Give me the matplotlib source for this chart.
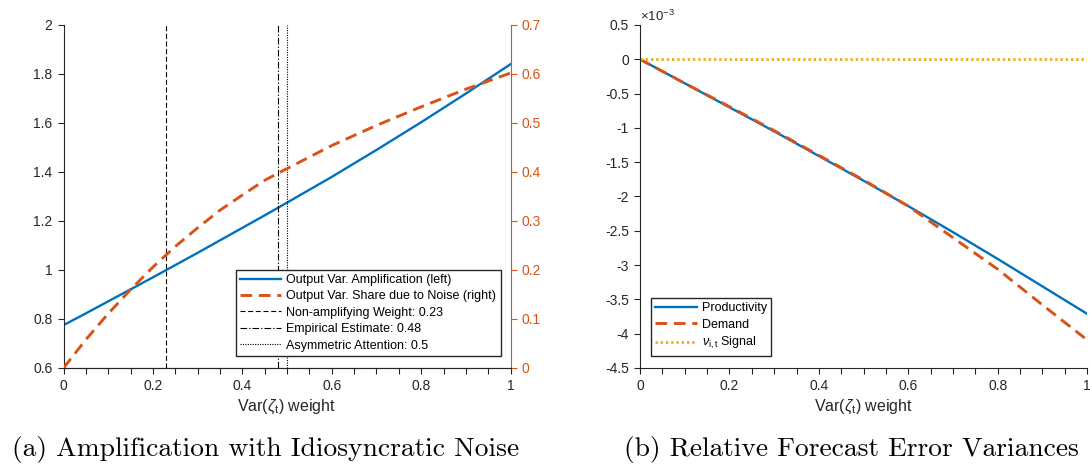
import matplotlib
matplotlib.use("Agg")
import matplotlib.pyplot as plt
from matplotlib.ticker import FuncFormatter, MultipleLocator

# weight on Var(zeta_t)
weight = [0.0, 0.05, 0.1, 0.15, 0.2, 0.25, 0.3, 0.35, 0.4, 0.45, 0.5, 0.6, 0.7, 0.8, 0.9, 1.0]

# panel (a): output variance amplification (left axis) and noise share (right axis)
amplification = [0.775, 0.823, 0.872, 0.921, 0.970, 1.020, 1.070, 1.121, 1.172,
                 1.223, 1.275, 1.380, 1.490, 1.603, 1.720, 1.840]
noise_share = [0.0, 0.058, 0.111, 0.160, 0.206, 0.248, 0.286, 0.322, 0.353,
               0.383, 0.407, 0.454, 0.495, 0.533, 0.569, 0.602]

# reference weights marked with vertical lines
ref_labels = ['Non-amplifying Weight: 0.23', 'Empirical Estimate: 0.48', 'Asymmetric Attention: 0.5']
ref_weights = [0.23, 0.48, 0.5]

# panel (b): relative forecast error variances, in units of 1e-3
weight_b = [0.0, 0.1, 0.2, 0.3, 0.4, 0.5, 0.6, 0.7, 0.8, 0.9, 1.0]
productivity = [0.0, -0.35, -0.70, -1.05, -1.41, -1.77, -2.14, -2.52, -2.91, -3.31, -3.71]
demand = [0.0, -0.35, -0.69, -1.04, -1.40, -1.76, -2.14, -2.60, -3.06, -3.58, -4.09]
signal = [0.0] * len(weight_b)

BLUE = '#0072BD'
ORANGE = '#D95319'
YELLOW = '#EDB120'
AXC = '#262626'

plt.rcParams['font.family'] = ['Liberation Sans', 'DejaVu Sans']
plt.rcParams['mathtext.fontset'] = 'custom'
plt.rcParams['mathtext.rm'] = 'Liberation Sans'
plt.rcParams['mathtext.it'] = 'Liberation Sans:italic'
plt.rcParams['axes.unicode_minus'] = False
plt.rcParams['xtick.direction'] = 'out'
plt.rcParams['ytick.direction'] = 'out'

fmt = FuncFormatter(lambda v, pos: ('%g' % round(v, 6)).replace('\u2212', '-'))
xlabel = r'Var($\zeta_\mathrm{t}$) weight'


def style_axis(ax, color=AXC):
    ax.tick_params(axis='both', which='both', length=4.5, width=0.8, pad=3.5,
                   labelsize=10, colors=color)
    ax.tick_params(axis='x', colors=AXC)
    ax.xaxis.set_minor_locator(MultipleLocator(0.05))
    ax.xaxis.set_major_locator(MultipleLocator(0.2))
    ax.xaxis.set_major_formatter(fmt)
    ax.yaxis.set_major_formatter(fmt)
    ax.tick_params(axis='y', which='minor', length=0)
    for s in ax.spines.values():
        s.set_linewidth(0.8)
        s.set_color(AXC)
    ax.spines['top'].set_visible(False)


def boxed_legend(ax, handles, loc, anchor):
    leg = ax.legend(handles=handles, loc=loc, bbox_to_anchor=anchor,
                    fontsize=9, frameon=True, fancybox=False, framealpha=1,
                    edgecolor=AXC, handlelength=3.3, handletextpad=0.4,
                    labelspacing=0.35, borderpad=0.35, borderaxespad=0)
    leg.get_frame().set_linewidth(1.0)
    return leg


fig = plt.figure(figsize=(10.9, 4.69), dpi=100)

# ---- (a) amplification with idiosyncratic noise
ax1 = fig.add_axes([0.0583, 0.2154, 0.4101, 0.7313])
ax1r = ax1.twinx()

l_amp, = ax1.plot(weight, amplification, color=BLUE, lw=1.7,
                  label='Output Var. Amplification (left)')
l_noise, = ax1r.plot(weight, noise_share, color=ORANGE, lw=2.1,
                     linestyle=(0, (4.0, 2.3)),
                     label='Output Var. Share due to Noise (right)')

ref_styles = [(0, (4.5, 2.4)), (0, (6, 1.8, 1.2, 1.8)), (0, (1, 1.2))]
ref_lines = []
for lab, w, ls in zip(ref_labels, ref_weights, ref_styles):
    ln = ax1.axvline(w, color='black', lw=0.8, linestyle=ls, label=lab)
    ref_lines.append(ln)

ax1.set_xlim(0, 1)
ax1.set_ylim(0.6, 2)
ax1r.set_ylim(0, 0.7)
ax1.yaxis.set_major_locator(MultipleLocator(0.2))
ax1r.yaxis.set_major_locator(MultipleLocator(0.1))
style_axis(ax1)
style_axis(ax1r, ORANGE)
ax1r.spines['right'].set_color(ORANGE)
ax1r.spines['left'].set_visible(False)
ax1.spines['right'].set_visible(False)
ax1.set_xlabel(xlabel, fontsize=11.5, color=AXC, labelpad=3)

boxed_legend(ax1r, [l_amp, l_noise] + ref_lines, 'lower right', (0.978, 0.035))

# ---- (b) relative forecast error variances
ax3 = fig.add_axes([0.5872, 0.2154, 0.4101, 0.7313])
p1, = ax3.plot(weight_b, productivity, color=BLUE, lw=1.7, label='Productivity')
p2, = ax3.plot(weight_b, demand, color=ORANGE, lw=2.1, linestyle=(0, (4.0, 2.3)),
               label='Demand')
p3, = ax3.plot(weight_b, signal, color=YELLOW, lw=2.1, linestyle=(0, (0.8, 1.0)),
               label=r'$\nu_\mathrm{i,t}$ Signal')
ax3.set_xlim(0, 1)
ax3.set_ylim(-4.5, 0.5)
ax3.yaxis.set_major_locator(MultipleLocator(0.5))
style_axis(ax3)
ax3.spines['right'].set_visible(False)
ax3.set_xlabel(xlabel, fontsize=11.5, color=AXC, labelpad=3)
ax3.text(0.0, 1.004, r'$\times$10$^{\mathrm{-3}}$', transform=ax3.transAxes,
         fontsize=9.5, color=AXC, ha='left', va='bottom')

boxed_legend(ax3, [p1, p2, p3], 'lower left', (0.0246, 0.036))

# subfigure captions
fig.text(265.5 / 1090, 1 - 449 / 469, '(a) Amplification with Idiosyncratic Noise',
         family='cmr10', fontsize=19.8, ha='center', va='center')
fig.text(851.5 / 1090, 1 - 449 / 469, '(b) Relative Forecast Error Variances',
         family='cmr10', fontsize=19.8, ha='center', va='center')

fig.savefig('out.png', dpi=100)
